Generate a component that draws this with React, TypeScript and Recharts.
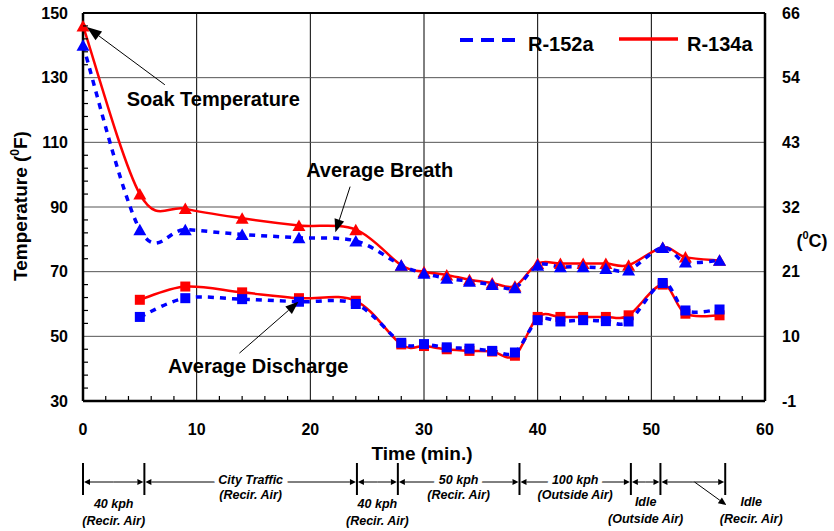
import React from "react";
import {
  LineChart,
  Line,
  XAxis,
  YAxis,
  CartesianGrid,
  ReferenceLine,
} from "recharts";

// test times (min.)
const times = [0, 5, 9, 14, 19, 24, 28, 30, 32, 34, 36, 38, 40, 42, 44, 46, 48, 51, 53, 56];

// average breath temperature (F)
const breath134a = [146, 94, 89.5, 86.5, 84.3, 83, 72, 70, 69, 67.5, 66.5, 65.5, 72.5, 72.5, 72.5, 72.5, 72, 77.5, 74.5, 73.5];
const breath152a = [140, 83, 83, 81.5, 80.5, 79.5, 72, 69.5, 68, 67, 66, 65, 72, 71.5, 71.5, 71, 70.5, 77.5, 73, 73.5];

// average discharge temperature (F), no reading at t=0
const discharge134a = [null, 61.3, 65.4, 63.6, 61.8, 61, 47.5, 47, 46, 45.5, 45.3, 44, 56, 56, 56, 56, 56.5, 66, 57, 56.5];
const discharge152a = [null, 56, 61.8, 61.5, 60.7, 60, 48, 47.6, 46.6, 46.2, 45.5, 45, 55, 54.6, 55, 54.7, 54.6, 66.5, 58, 58.3];

// axis ticks
const xMinorTicks = [2, 4, 6, 8, 12, 14, 16, 18, 22, 24, 26, 28, 32, 34, 36, 38, 42, 44, 46, 48, 52, 54, 56, 58];
const xLabels = [0, 10, 20, 30, 40, 50, 60];
const yMinorTicks = [34, 38, 42, 46, 54, 58, 62, 66, 74, 78, 82, 86, 94, 98, 102, 106, 114, 118, 122, 126, 134, 138, 142, 146];
const yLabels = [30, 50, 70, 90, 110, 130, 150];
const celsiusLabels = ["-1", "10", "21", "32", "43", "54", "66"];

// drive cycle shown under the chart
const phaseEdges = [0, 5.4, 24.1, 27.7, 38.4, 48.2, 50.8, 56.5];
const phaseMode = ["40 kph", "City Traffic", "40 kph", "50 kph", "100 kph", "Idle", "Idle"];
const phaseAir = ["(Recir. Air)", "(Recir. Air)", "(Recir. Air)", "(Recir. Air)", "(Outside Air)", "(Outside Air)", "(Recir. Air)"];
const phaseInline = [false, true, false, true, true, false, false];

const data = times.map((t, i) => ({
  t,
  b134: breath134a[i],
  b152: breath152a[i],
  d134: discharge134a[i],
  d152: discharge152a[i],
}));

const W = 834;
const H = 531;
const LEFT = 83;
const RIGHT = 765;
const TOP = 13;
const BOTTOM = 401;

const sx = (t: number) => LEFT + (t / 60) * (RIGHT - LEFT);
const sy = (v: number) => TOP + ((150 - v) / 120) * (BOTTOM - TOP);

const RED = "#FF0000";
const BLUE = "#0000FF";
const FONT = "Arial, 'Liberation Sans', sans-serif";

// Excel style smoothed line (catmull-rom through the points)
const excelSmooth = (context: any) => {
  let pts: number[][] = [];
  return {
    areaStart() {},
    areaEnd() {},
    lineStart() {
      pts = [];
    },
    point(x: number, y: number) {
      pts.push([+x, +y]);
    },
    lineEnd() {
      if (!pts.length) return;
      context.moveTo(pts[0][0], pts[0][1]);
      for (let i = 0; i < pts.length - 1; i++) {
        const p0 = pts[Math.max(i - 1, 0)];
        const p1 = pts[i];
        const p2 = pts[i + 1];
        const p3 = pts[Math.min(i + 2, pts.length - 1)];
        context.bezierCurveTo(
          p1[0] + (p2[0] - p0[0]) / 6,
          p1[1] + (p2[1] - p0[1]) / 6,
          p2[0] - (p3[0] - p1[0]) / 6,
          p2[1] - (p3[1] - p1[1]) / 6,
          p2[0],
          p2[1]
        );
      }
    },
  };
};

const triangleDot = (color: string) => (props: any) => {
  const { cx, cy, index, value } = props;
  if (cx == null || cy == null || value == null) return <g key={index} />;
  return (
    <polygon
      key={index}
      points={`${cx},${cy - 6} ${cx - 6.5},${cy + 5.5} ${cx + 6.5},${cy + 5.5}`}
      fill={color}
    />
  );
};

const squareDot = (color: string) => (props: any) => {
  const { cx, cy, index, value } = props;
  if (cx == null || cy == null || value == null) return <g key={index} />;
  return <rect key={index} x={cx - 5} y={cy - 5} width={10} height={10} fill={color} />;
};

const Arrow = ({ x1, y1, x2, y2, len, wid, sw = 1 }: any) => {
  const dx = x2 - x1;
  const dy = y2 - y1;
  const d = Math.sqrt(dx * dx + dy * dy);
  const ux = dx / d;
  const uy = dy / d;
  const bx = x2 - ux * len;
  const by = y2 - uy * len;
  const px = -uy * (wid / 2);
  const py = ux * (wid / 2);
  return (
    <g>
      <line x1={x1} y1={y1} x2={bx} y2={by} stroke="#000" strokeWidth={sw} />
      <polygon
        points={`${x2},${y2} ${bx + px},${by + py} ${bx - px},${by - py}`}
        fill="#000"
      />
    </g>
  );
};

const Timeline = () => {
  const barTop = 463;
  const barBottom = 495;
  const lineY = 482;
  const tStyle: any = { fontSize: 12.5, fontWeight: "bold", fontStyle: "italic" };
  return (
    <g>
      {phaseEdges.map((t, i) => (
        <line key={"b" + i} x1={sx(t)} x2={sx(t)} y1={barTop} y2={barBottom} stroke="#000" strokeWidth={2} />
      ))}
      {phaseMode.map((mode, i) => {
        const a = sx(phaseEdges[i]) + 1;
        const b = sx(phaseEdges[i + 1]) - 1;
        const last = i === phaseMode.length - 1;
        const cx = last ? sx(phaseEdges[i + 1]) + 26 : (a + b) / 2;
        return (
          <g key={"p" + i}>
            <Arrow x1={(a + b) / 2} y1={lineY} x2={a} y2={lineY} len={6} wid={6} />
            <Arrow x1={(a + b) / 2} y1={lineY} x2={b} y2={lineY} len={6} wid={6} />
            {phaseInline[i] ? (
              <g>
                <text x={cx} y={lineY + 2} textAnchor="middle" stroke="#fff" strokeWidth={9} paintOrder="stroke" {...tStyle}>
                  {mode}
                </text>
                <text x={cx} y={lineY + 17} textAnchor="middle" {...tStyle}>
                  {phaseAir[i]}
                </text>
              </g>
            ) : (
              <g>
                <text x={cx} y={i < 5 ? 508 : 506} textAnchor="middle" {...tStyle}>
                  {mode}
                </text>
                <text x={cx} y={i < 5 ? 525 : 523} textAnchor="middle" {...tStyle}>
                  {phaseAir[i]}
                </text>
              </g>
            )}
            {last && (
              <Arrow x1={sx(53.8)} y1={lineY} x2={sx(56.6)} y2={505} len={8} wid={7} />
            )}
          </g>
        );
      })}
    </g>
  );
};

const Overlay = () => {
  const big: any = { fontSize: 20, fontWeight: "bold", fill: "#000" };
  return (
    <svg
      width={W}
      height={H}
      style={{ position: "absolute", left: 0, top: 0, pointerEvents: "none", fontFamily: FONT }}
    >
      {/* inward minor ticks */}
      {xMinorTicks.map((t) => (
        <line key={"xt" + t} x1={sx(t)} x2={sx(t)} y1={BOTTOM} y2={BOTTOM - 5} stroke="#000" strokeWidth={1.2} />
      ))}
      {yMinorTicks.map((v) => (
        <line key={"yt" + v} x1={LEFT} x2={LEFT + 5} y1={sy(v)} y2={sy(v)} stroke="#000" strokeWidth={1.2} />
      ))}

      {/* axis titles */}
      <text transform={`translate(27, 206) rotate(-90)`} textAnchor="middle" fontSize={19} fontWeight="bold">
        Temperature (<tspan fontSize={12} dy={-8}>0</tspan>
        <tspan dy={8}>F)</tspan>
      </text>
      <text x={812} y={247} textAnchor="middle" fontSize={18} fontWeight="bold">
        (<tspan fontSize={11} dy={-8}>0</tspan>
        <tspan dy={8}>C)</tspan>
      </text>
      <text x={422} y={460} textAnchor="middle" fontSize={19} fontWeight="bold">
        Time (min.)
      </text>

      {/* legend */}
      <line x1={460} x2={517} y1={40} y2={40} stroke={BLUE} strokeWidth={4} strokeDasharray="13 8" />
      <text x={528} y={51} {...big}>R-152a</text>
      <line x1={619} x2={678} y1={39} y2={39} stroke={RED} strokeWidth={3.5} />
      <text x={687} y={51} {...big}>R-134a</text>

      {/* annotations */}
      <text x={sx(3.85)} y={106} {...big}>Soak Temperature</text>
      <Arrow x1={sx(7.2)} y1={sy(127.8)} x2={sx(0.33)} y2={sy(145.7)} len={15} wid={11} />
      <text x={sx(19.63)} y={177} {...big}>Average Breath</text>
      <Arrow x1={sx(23.5)} y1={sy(96.3)} x2={sx(22.2)} y2={sy(82.2)} len={13} wid={10} />
      <text x={sx(7.48)} y={373} {...big}>Average Discharge</text>
      <Arrow x1={sx(13.76)} y1={sy(44.8)} x2={sx(18.95)} y2={sy(60.7)} len={13} wid={10} />

      <Timeline />
    </svg>
  );
};

export default function App() {
  const tickStyle = { fill: "#000", fontSize: 16, fontWeight: "bold" } as any;
  return (
    <div style={{ position: "absolute", left: 0, top: 0, width: W, height: H, background: "#fff", fontFamily: FONT }}>
      <LineChart
        width={W}
        height={H}
        data={data}
        margin={{ top: TOP, left: LEFT - 60, right: W - RIGHT - 50, bottom: H - BOTTOM - 40 }}
      >
        <CartesianGrid yAxisId="left" horizontal={false} verticalValues={[10, 20, 30, 40, 50]} stroke="#000" strokeWidth={1} />
        <CartesianGrid yAxisId="left" vertical={false} horizontalValues={[50, 70, 90, 110, 130]} stroke="#555" strokeWidth={1} />
        <XAxis
          dataKey="t"
          type="number"
          domain={[0, 60]}
          ticks={xLabels}
          interval={0}
          height={40}
          tickSize={0}
          tickMargin={23}
          tickLine={false}
          axisLine={{ stroke: "#000", strokeWidth: 2.5 }}
          tick={tickStyle}
        />
        <YAxis
          yAxisId="left"
          domain={[30, 150]}
          ticks={yLabels}
          interval={0}
          width={60}
          tickSize={0}
          tickMargin={15}
          tickLine={false}
          axisLine={{ stroke: "#000", strokeWidth: 2.5 }}
          tick={tickStyle}
        />
        <YAxis
          yAxisId="right"
          orientation="right"
          domain={[30, 150]}
          ticks={yLabels}
          interval={0}
          width={50}
          tickSize={0}
          tickMargin={17}
          tickLine={false}
          tickFormatter={(v: number) => celsiusLabels[yLabels.indexOf(v)]}
          axisLine={{ stroke: "#000", strokeWidth: 2.5 }}
          tick={{ ...tickStyle, textAnchor: "start" }}
        />
        <ReferenceLine yAxisId="left" y={150} stroke="#000" strokeWidth={2} />
        {/* invisible series so the right axis gets drawn */}
        <Line yAxisId="right" dataKey="b134" stroke="none" dot={false} activeDot={false} legendType="none" isAnimationActive={false} />
        <Line
          yAxisId="left"
          dataKey="b134"
          name="R-134a"
          type={excelSmooth as any}
          stroke={RED}
          strokeWidth={2.5}
          dot={triangleDot(RED)}
          activeDot={false}
          isAnimationActive={false}
        />
        <Line
          yAxisId="left"
          dataKey="d134"
          name="R-134a"
          type={excelSmooth as any}
          stroke={RED}
          strokeWidth={2.5}
          dot={squareDot(RED)}
          activeDot={false}
          isAnimationActive={false}
        />
        <Line
          yAxisId="left"
          dataKey="b152"
          name="R-152a"
          type={excelSmooth as any}
          stroke={BLUE}
          strokeWidth={3.5}
          strokeDasharray="6 6"
          dot={triangleDot(BLUE)}
          activeDot={false}
          isAnimationActive={false}
        />
        <Line
          yAxisId="left"
          dataKey="d152"
          name="R-152a"
          type={excelSmooth as any}
          stroke={BLUE}
          strokeWidth={3.5}
          strokeDasharray="6 6"
          dot={squareDot(BLUE)}
          activeDot={false}
          isAnimationActive={false}
        />
      </LineChart>
      <Overlay />
    </div>
  );
}
